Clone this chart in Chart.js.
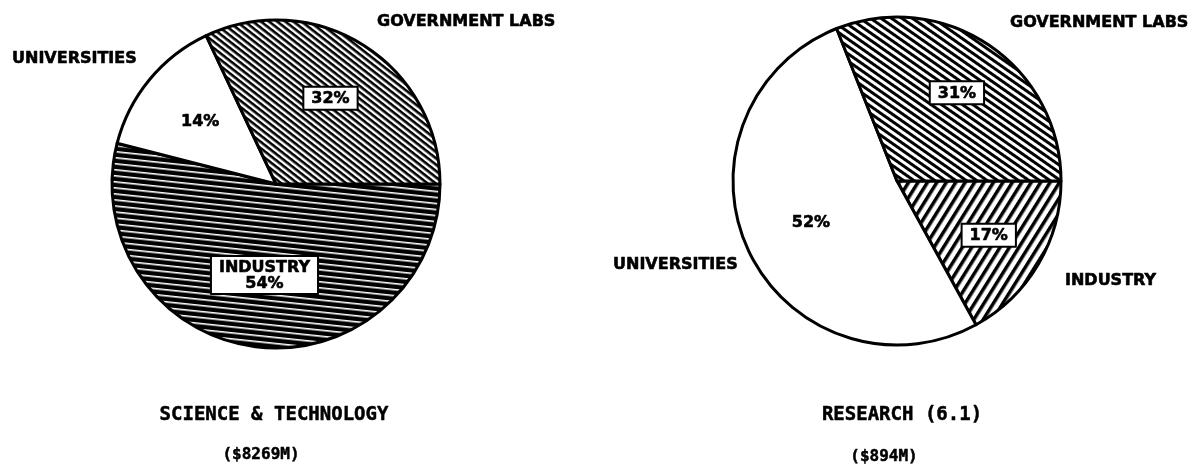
<!DOCTYPE html>
<html>
<head>
<meta charset="utf-8">
<script src="https://cdn.jsdelivr.net/npm/chart.js@4/dist/chart.umd.min.js"></script>
<style>
  html, body { margin: 0; padding: 0; background: #fff; }
  body { width: 1193px; height: 469px; position: relative; overflow: hidden; }
  .pie { position: absolute; top: 0; height: 469px; }
  #leftBox { left: 0; width: 596px; }
  #rightBox { left: 596px; width: 597px; }
</style>
</head>
<body>
<div class="pie" id="leftBox"><canvas id="sciTechChart"></canvas></div>
<div class="pie" id="rightBox"><canvas id="researchChart"></canvas></div>
<script>
'use strict';

// slices go clockwise from 3 o'clock
const SECTORS = ['INDUSTRY', 'UNIVERSITIES', 'GOVERNMENT LABS'];
const SCI_TECH_SHARE = [54, 14, 32];
const RESEARCH_SHARE = [17, 52, 31];
const SCI_TECH_TITLE = ['SCIENCE & TECHNOLOGY', '($8269M)'];
const RESEARCH_TITLE = ['RESEARCH (6.1)', '($894M)'];

const LABEL_FONT = 'bold 16px "DejaVu Sans"';
const TITLE_FONT = 'bold 19px "DejaVu Sans Mono"';
const SUB_FONT = 'bold 16px "DejaVu Sans Mono"';

function stripes(period, band, angle, fg, bg) {
  const tile = document.createElement('canvas');
  tile.width = 32;
  tile.height = period;
  const c = tile.getContext('2d');
  c.fillStyle = bg;
  c.fillRect(0, 0, tile.width, period);
  c.fillStyle = fg;
  c.fillRect(0, 0, tile.width, band);
  const pattern = c.createPattern(tile, 'repeat');
  pattern.setTransform(new DOMMatrix().rotate(angle));
  return pattern;
}

// heavy plotter-style lettering: fill plus a thin stroke
function inkText(ctx, text, x, y) {
  ctx.fillText(text, x, y);
  ctx.strokeText(text, x, y);
}

const sliceText = {
  id: 'sliceText',
  afterDatasetsDraw(chart, args, opts) {
    const { ctx } = chart;
    const arcs = chart.getDatasetMeta(0).data;
    const values = chart.data.datasets[0].data;
    const cx = arcs[0].x;
    const cy = arcs[0].y;
    ctx.save();
    ctx.fillStyle = '#000';
    ctx.textBaseline = 'middle';
    ctx.lineJoin = 'round';

    arcs.forEach((arc, i) => {
      const spec = opts.inside[i];
      const mid = (arc.startAngle + arc.endAngle) / 2;
      const x = cx + Math.cos(mid) * arc.outerRadius * spec.at;
      const y = cy + Math.sin(mid) * arc.outerRadius * spec.at;
      const lines = spec.withName ? [chart.data.labels[i], values[i] + '%'] : [values[i] + '%'];
      ctx.font = LABEL_FONT;
      ctx.textAlign = 'center';
      const lineH = 16;
      if (spec.boxed) {
        const w = Math.max(...lines.map(t => ctx.measureText(t).width)) + 16;
        const h = lines.length * lineH + (lines.length > 1 ? 6 : 7);
        ctx.fillStyle = '#fff';
        ctx.fillRect(x - w / 2, y - h / 2, w, h);
        ctx.lineWidth = 2;
        ctx.strokeStyle = '#000';
        ctx.strokeRect(x - w / 2, y - h / 2, w, h);
        ctx.fillStyle = '#000';
      }
      ctx.lineWidth = 0.6;
      ctx.strokeStyle = '#000';
      lines.forEach((t, k) => {
        inkText(ctx, t, x, y + (k - (lines.length - 1) / 2) * lineH + 1);
      });
    });

    ctx.textAlign = 'left';
    ctx.font = LABEL_FONT;
    ctx.lineWidth = 0.6;
    Object.entries(opts.outside).forEach(([i, p]) => {
      inkText(ctx, chart.data.labels[i], cx + p.dx, cy + p.dy);
    });

    ctx.textAlign = 'center';
    ctx.lineWidth = 0.5;
    ctx.font = TITLE_FONT;
    inkText(ctx, opts.title[0], cx + opts.titleAt.dx, cy + opts.titleAt.dy);
    ctx.font = SUB_FONT;
    inkText(ctx, opts.title[1], cx + opts.subAt.dx, cy + opts.subAt.dy);
    ctx.restore();
  }
};

function drawPie(canvasId, values, fills, padding, textOpts) {
  return new Chart(document.getElementById(canvasId), {
    type: 'pie',
    data: {
      labels: SECTORS,
      datasets: [{
        data: values,
        backgroundColor: fills,
        borderColor: '#000',
        borderWidth: 3,
        borderJoinStyle: 'round'
      }]
    },
    options: {
      responsive: true,
      maintainAspectRatio: false,
      animation: false,
      events: [],
      rotation: 90,
      radius: 164,
      layout: { padding },
      plugins: {
        legend: { display: false },
        tooltip: { enabled: false },
        sliceText: textOpts
      }
    },
    plugins: [sliceText]
  });
}

drawPie('sciTechChart', SCI_TECH_SHARE, [
  stripes(6, 1.6, 6, '#fff', '#000'),
  '#fff',
  stripes(5, 2.6, 38, '#000', '#fff')
], { left: 0, right: 44, top: 0, bottom: 101 }, {
  inside: [
    { boxed: true, withName: true, at: 0.56 },
    { boxed: false, at: 0.6 },
    { boxed: true, at: 0.62 }
  ],
  outside: { 1: { dx: -264, dy: -125 }, 2: { dx: 101, dy: -162 } },
  title: SCI_TECH_TITLE,
  titleAt: { dx: -2, dy: 231 },
  subAt: { dx: -15, dy: 271 }
});

drawPie('researchChart', RESEARCH_SHARE, [
  stripes(8, 3.5, -58, '#000', '#fff'),
  '#fff',
  stripes(6, 3, 35, '#000', '#fff')
], { left: 5, right: 0, top: 0, bottom: 107 }, {
  inside: [
    { boxed: true, at: 0.65 },
    { boxed: false, at: 0.58 },
    { boxed: true, at: 0.65 }
  ],
  outside: { 0: { dx: 168, dy: 100 }, 1: { dx: -284, dy: 84 }, 2: { dx: 113, dy: -158 } },
  title: RESEARCH_TITLE,
  titleAt: { dx: 5, dy: 234 },
  subAt: { dx: -13, dy: 276 }
});
</script>
</body>
</html>
